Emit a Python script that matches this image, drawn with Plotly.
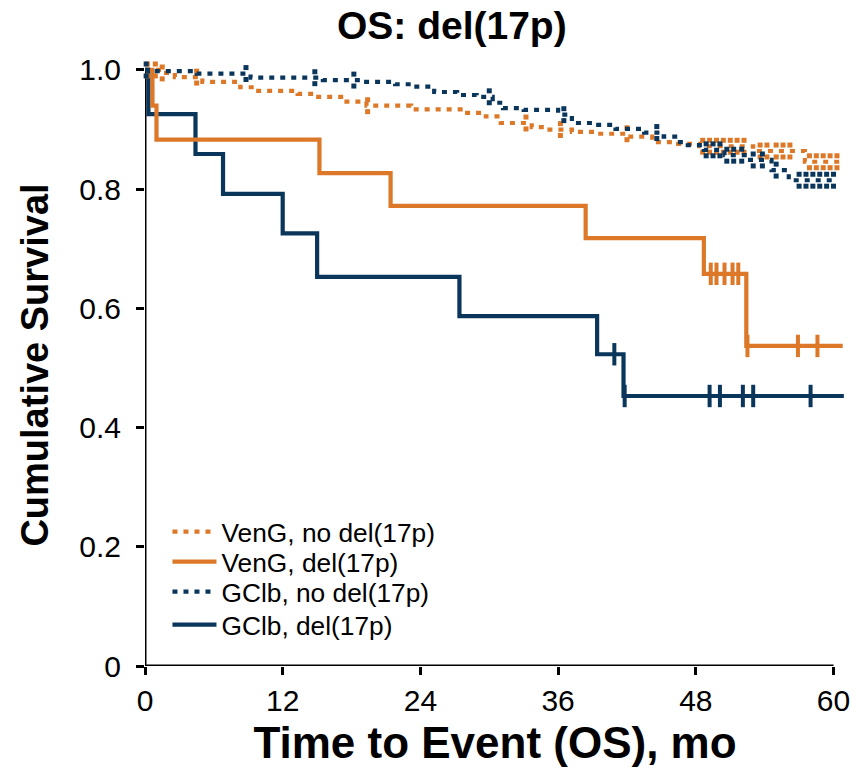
import numpy as np
import plotly.graph_objects as go

ORANGE = "#DC7828"
NAVY = "#0A365C"

# ---------------- data ----------------
# VenG, no del(17p)  (dotted orange)
veng_nodel_t = [0, 1.5, 2.6, 5.0, 8.3, 9.5, 13.3, 14.8, 17.3, 19.3, 23.2, 27.8, 29.7,
                31.0, 33.7, 35.0, 37.2, 39.3, 42.3, 44.2, 46.2, 48.3, 53.0, 57.5, 60.8]
veng_nodel_s = [1.0, 0.995, 0.988, 0.980, 0.971, 0.965, 0.960, 0.955, 0.947, 0.940, 0.934,
                0.928, 0.922, 0.911, 0.904, 0.900, 0.896, 0.893, 0.888, 0.879, 0.876, 0.872,
                0.864, 0.846, 0.846]
veng_nodel_cens = [0.2, 0.9, 1.5, 4.5, 19.4, 33.2, 36.2, 42.0, 48.6, 49.2, 49.8, 50.4, 51.0,
                   51.6, 52.2, 53.6, 54.2, 55.0, 55.6, 56.2, 57.9, 58.5, 59.1, 59.7, 60.3]

# VenG, del(17p)  (solid orange)
veng_del_t = [0, 0.65, 1.0, 15.2, 21.4, 38.4, 48.7, 52.4, 60.8]
veng_del_s = [1.0, 0.940, 0.883, 0.827, 0.772, 0.718, 0.658, 0.537, 0.537]
veng_del_cens = [49.3, 49.8, 50.5, 51.2, 51.7, 52.5, 56.9, 58.6]

# GClb, no del(17p)  (dotted navy)
gclb_nodel_t = [0, 0.5, 4.5, 9.2, 15.5, 19.0, 21.8, 23.2, 25.2, 27.2, 28.9, 30.3, 31.2,
                33.0, 36.0, 37.2, 39.2, 41.0, 43.5, 45.2, 46.4, 47.3, 48.7, 50.5, 52.5,
                54.6, 56.1, 60.3]
gclb_nodel_s = [1.0, 0.998, 0.994, 0.987, 0.983, 0.980, 0.976, 0.972, 0.963, 0.958, 0.955,
                0.945, 0.936, 0.933, 0.925, 0.911, 0.908, 0.901, 0.895, 0.888, 0.879, 0.874,
                0.866, 0.857, 0.849, 0.832, 0.815, 0.815]
gclb_nodel_cens = [0.1, 8.8, 14.8, 18.2, 30.0, 36.5, 44.6, 48.9, 49.5, 50.1, 50.7, 51.3,
                   52.0, 53.0, 53.8, 55.0, 57.0, 57.6, 58.2, 58.8, 59.4, 60.0]

# GClb, del(17p)  (solid navy)
gclb_del_t = [0, 0.3, 4.4, 6.8, 12.0, 15.0, 27.4, 39.4, 41.7, 60.9]
gclb_del_s = [1.0, 0.926, 0.859, 0.792, 0.726, 0.653, 0.587, 0.523, 0.453, 0.453]
gclb_del_cens = [40.9, 41.8, 49.2, 50.1, 52.1, 53.0, 58.0]

series_names = ["VenG, no del(17p)", "VenG, del(17p)", "GClb, no del(17p)", "GClb, del(17p)"]

x_ticks = [0, 12, 24, 36, 48, 60]
y_ticks = [0, 0.2, 0.4, 0.6, 0.8, 1.0]
y_tick_text = ["0", "0.2", "0.4", "0.6", "0.8", "1.0"]

FONT = "Liberation Sans, Arial, sans-serif"


def surv_at(t, s, ct):
    t = np.asarray(t, dtype=float)
    s = np.asarray(s, dtype=float)
    idx = np.searchsorted(t, np.asarray(ct, dtype=float), side="right") - 1
    return s[np.clip(idx, 0, len(s) - 1)]


fig = go.Figure()

DOT = "5px,6px"
LW = 4.2
OFF = 0.010  # half-height of dotted censor tick (two squares)


def add_curve(t, s, cens, color, dotted, name, legend_id):
    fig.add_trace(go.Scatter(
        x=t, y=s, mode="lines", line_shape="hv", name=name, legend=legend_id,
        line=dict(color=color, width=LW, dash=DOT if dotted else "solid"),
    ))
    cy = surv_at(t, s, cens)
    if dotted:
        fig.add_trace(go.Scatter(
            x=list(cens) + list(cens), y=list(cy + OFF) + list(cy - OFF),
            mode="markers", showlegend=False, hoverinfo="skip", cliponaxis=False,
            marker=dict(symbol="square", size=5, color=color, line=dict(width=0)),
        ))
    else:
        fig.add_trace(go.Scatter(
            x=cens, y=cy, mode="markers", showlegend=False, hoverinfo="skip",
            cliponaxis=False,
            marker=dict(symbol="line-ns", size=16, color=color,
                        line=dict(color=color, width=4)),
        ))


add_curve(gclb_del_t, gclb_del_s, gclb_del_cens, NAVY, False, series_names[3], "legend4")
add_curve(veng_del_t, veng_del_s, veng_del_cens, ORANGE, False, series_names[1], "legend2")
add_curve(veng_nodel_t, veng_nodel_s, veng_nodel_cens, ORANGE, True, series_names[0], "legend")
add_curve(gclb_nodel_t, gclb_nodel_s, gclb_nodel_cens, NAVY, True, series_names[2], "legend3")

# axis lines
fig.add_shape(type="line", xref="x", yref="y", x0=0, x1=60, y0=0, y1=0,
              line=dict(color="black", width=3), layer="below")
fig.add_shape(type="line", xref="x", yref="y", x0=0, x1=0, y0=0, y1=1.0,
              line=dict(color="black", width=3), layer="below")


def leg(yc):
    return dict(x=0.0321, y=yc, xanchor="left", yanchor="middle",
                font=dict(size=26.3, family=FONT, color="black"),
                bgcolor="rgba(0,0,0,0)", itemwidth=44, borderwidth=0)


fig.update_layout(
    width=859, height=769,
    margin=dict(l=145, r=9, t=64, b=103),
    paper_bgcolor="white", plot_bgcolor="white",
    font=dict(family=FONT, color="black"),
    title=dict(text="<b>OS: del(17p)</b>", x=0.526, xanchor="center", xref="container",
               y=0.967, yanchor="middle", font=dict(size=39, family=FONT, color="black")),
    legend=leg(0.2226),
    legend2=leg(0.1728),
    legend3=leg(0.1229),
    legend4=leg(0.0681),
    showlegend=True,
)
fig.update_xaxes(
    range=[0, 61], tickvals=x_ticks, ticktext=[str(v) for v in x_ticks],
    showgrid=False, zeroline=False, showline=False,
    ticks="outside", ticklen=8, tickwidth=3, tickcolor="black",
    tickfont=dict(size=30, family=FONT, color="black"),
    title=dict(text="<b>Time to Event (OS), mo</b>", font=dict(size=44, family=FONT),
               standoff=11),
)
fig.update_yaxes(
    range=[0, 1.01], tickvals=y_ticks, ticktext=y_tick_text,
    showgrid=False, zeroline=False, showline=False,
    ticks="outside", ticklen=8, tickwidth=3, tickcolor="black", ticklabelstandoff=9,
    tickfont=dict(size=30, family=FONT, color="black"),
    title=dict(text="<b>Cumulative Survival</b>", font=dict(size=38, family=FONT),
               standoff=18),
)

fig.write_html("out.html")
